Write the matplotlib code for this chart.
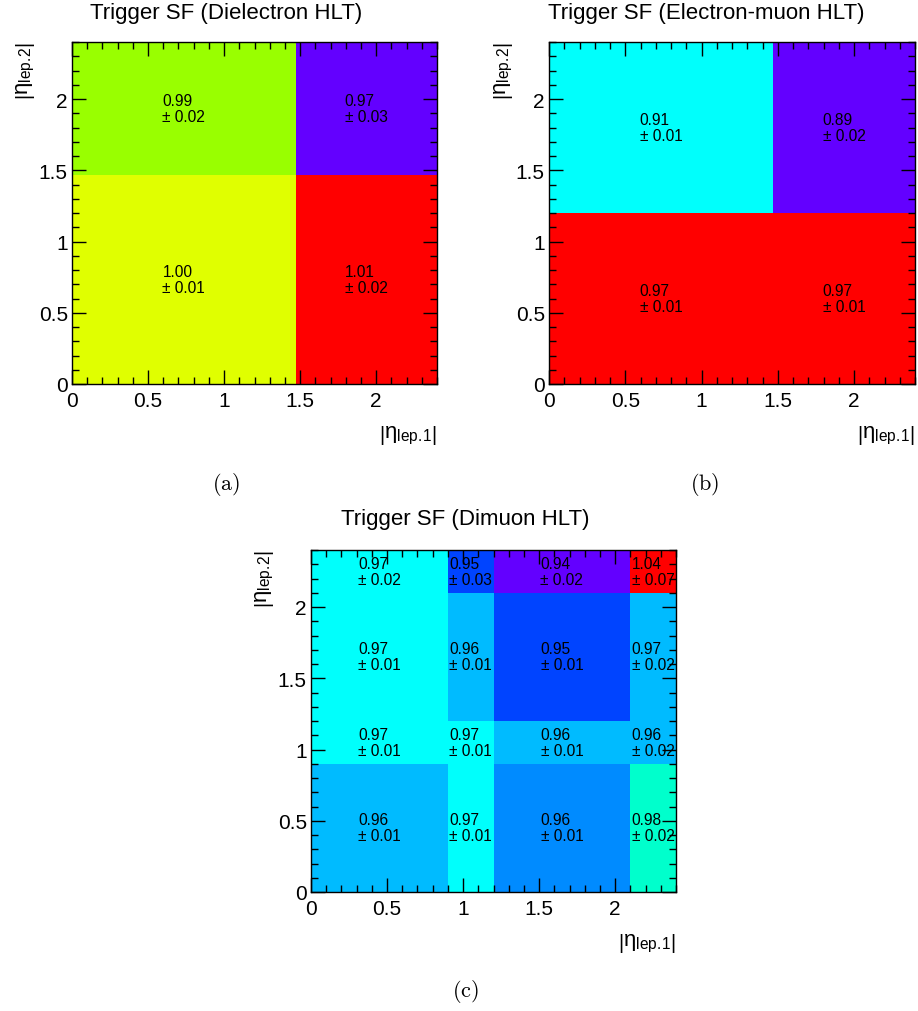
import colorsys
import numpy as np
import matplotlib
matplotlib.use("Agg")
import matplotlib.pyplot as plt
from matplotlib.colors import ListedColormap, Normalize
from matplotlib.ticker import MultipleLocator, FuncFormatter

plt.rcParams['font.family'] = ['Liberation Sans', 'DejaVu Sans']
plt.rcParams['mathtext.fontset'] = 'custom'
plt.rcParams['mathtext.rm'] = 'Liberation Sans'
plt.rcParams['mathtext.it'] = 'Liberation Sans:italic'

# ---------------- data ----------------
titles = ["Trigger SF (Dielectron HLT)", "Trigger SF (Electron-muon HLT)", "Trigger SF (Dimuon HLT)"]
captions = ["(a)", "(b)", "(c)"]
xlabel = "|η_lep.1|"
ylabel = "|η_lep.2|"

x_edges_a = [0.0, 1.47, 2.4]
y_edges_a = [0.0, 1.47, 2.4]
sf_a = [[0.9955, 1.006],
        [0.9935, 0.968]]
err_a = [[0.01, 0.02],
         [0.02, 0.03]]

x_edges_b = [0.0, 1.47, 2.4]
y_edges_b = [0.0, 1.2, 2.4]
sf_b = [[0.968, 0.967],
        [0.914, 0.889]]
err_b = [[0.01, 0.01],
         [0.01, 0.02]]

x_edges_c = [0.0, 0.9, 1.2, 2.1, 2.4]
y_edges_c = [0.0, 0.9, 1.2, 2.1, 2.4]
sf_c = [[0.963, 0.969, 0.959, 0.976],
        [0.969, 0.969, 0.963, 0.963],
        [0.969, 0.963, 0.953, 0.966],
        [0.969, 0.953, 0.937, 1.037]]
err_c = [[0.01, 0.01, 0.01, 0.02],
         [0.01, 0.01, 0.01, 0.02],
         [0.01, 0.01, 0.01, 0.02],
         [0.02, 0.03, 0.02, 0.07]]

# ---------------- ROOT "pretty" palette with 20 contours ----------------
def root_palette(ncont=20, ncol=50):
    cols = []
    for k in range(ncont):
        i = int((k + 0.99) * ncol / ncont)
        if i >= ncol - 1:
            cols.append((1.0, 0.0, 0.0))
        else:
            hue = 280.0 - (i + 1) * 280.0 / ncol
            cols.append(colorsys.hls_to_rgb(hue / 360.0, 0.5, 1.0))
    return ListedColormap(cols)

cmap = root_palette()

def mathlabel(s):
    base, sub = s.strip('|').split('_')
    sub = sub.replace('.', r'.\!')
    return r'$\left|\mathrm{' + base + r'}_{\mathrm{' + sub + r'}}\right|$'

W, H = 918, 1012
fig = plt.figure(figsize=(W / 100, H / 100), dpi=100)

def px_axes(left, top, right, bottom):
    return fig.add_axes([left / W, 1 - bottom / H, (right - left) / W, (bottom - top) / H])

fmt = FuncFormatter(lambda v, p: "%g" % round(v, 3))

def draw(ax, xe, ye, z, e, title, caption, tx, ty, cx, cy, ylx, ylt):
    z = np.array(z)
    e = np.array(e)
    norm = Normalize(vmin=z.min(), vmax=z.max())
    ax.pcolormesh(xe, ye, z, cmap=cmap, norm=norm, shading='flat')
    ax.set_xlim(0, 2.4)
    ax.set_ylim(0, 2.4)
    for a in (ax.xaxis, ax.yaxis):
        a.set_major_locator(MultipleLocator(0.5))
        a.set_minor_locator(MultipleLocator(0.1))
        a.set_major_formatter(fmt)
    ax.tick_params(which='both', direction='in', top=True, right=True, width=1.0, labelsize=15)
    ax.tick_params(which='major', length=10)
    ax.tick_params(which='minor', length=5)
    ax.tick_params(axis='x', pad=5)
    ax.tick_params(axis='y', pad=3)
    for s in ax.spines.values():
        s.set_linewidth(1.0)
    xc = 0.5 * (np.array(xe[:-1]) + np.array(xe[1:]))
    yc = 0.5 * (np.array(ye[:-1]) + np.array(ye[1:]))
    for r in range(len(yc)):
        for c in range(len(xc)):
            ax.text(xc[c], yc[r], "%.2f\n\u00b1 %.2f" % (z[r, c], e[r, c]),
                    ha='center', va='center', multialignment='left',
                    fontsize=11.2, linespacing=1.08, color='black')
    fig.text(tx / W, 1 - ty / H, title, ha='center', va='center', fontsize=16)
    fig.text(cx / W, 1 - cy / H, r'$\mathrm{%s}$' % caption, ha='center', va='center',
             fontsize=16, math_fontfamily='cm')
    ax.text(1.0, -0.15, mathlabel(xlabel), transform=ax.transAxes,
            ha='right', va='center', fontsize=16)
    fig.text(ylx / W, 1 - ylt / H, mathlabel(ylabel),
             rotation=90, ha='center', va='top', fontsize=16)

ax_a = px_axes(72, 43, 437, 385)
draw(ax_a, x_edges_a, y_edges_a, sf_a, err_a, titles[0], captions[0], 226, 13, 226, 485, 26, 42)

ax_b = px_axes(549, 43, 915, 385)
draw(ax_b, x_edges_b, y_edges_b, sf_b, err_b, titles[1], captions[1], 706, 13, 705, 485, 504, 42)

ax_c = px_axes(311, 551, 676, 893)
draw(ax_c, x_edges_c, y_edges_c, sf_c, err_c, titles[2], captions[2], 465, 520, 465, 992, 265, 550)

fig.savefig("out.png", dpi=100)
